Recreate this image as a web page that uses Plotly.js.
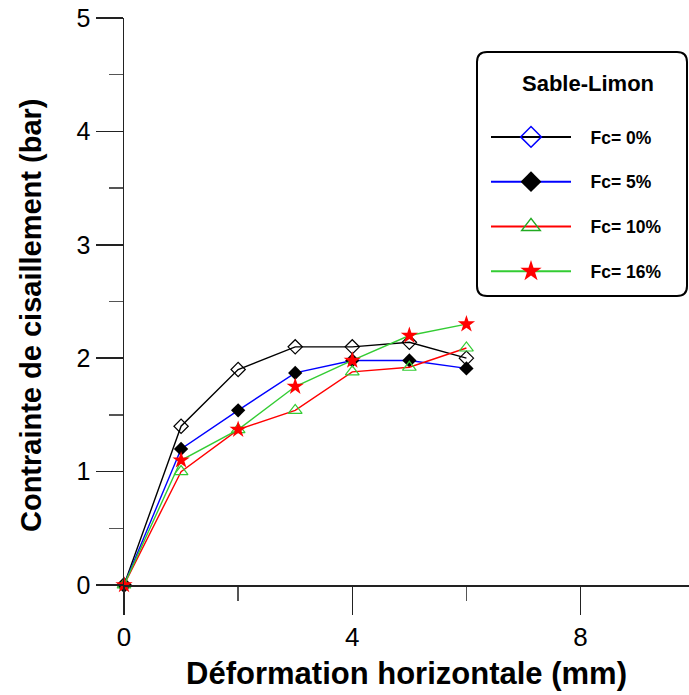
<!DOCTYPE html>
<html>
<head>
<meta charset="utf-8">
<script src="https://cdn.plot.ly/plotly-3.0.1.min.js"></script>
<style>html,body{margin:0;padding:0;background:#fff;}#chart{width:689px;height:695px;}</style>
</head>
<body>
<div id="chart"></div>
<script>
// Data
const deformation = [0, 1, 2, 3, 4, 5, 6];          // mm
const fc0  = [0, 1.40, 1.90, 2.10, 2.10, 2.14, 2.00]; // bar
const fc5  = [0, 1.20, 1.54, 1.87, 1.98, 1.98, 1.91];
const fc10 = [0, 1.00, 1.37, 1.54, 1.88, 1.92, 2.09];
const fc16 = [0, 1.10, 1.37, 1.75, 1.98, 2.20, 2.30];
const seriesNames = ["Fc= 0%", "Fc= 5%", "Fc= 10%", "Fc= 16%"];
const legendTitle = "Sable-Limon";
const xTitle = "Déformation horizontale (mm)";
const yTitle = "Contrainte de cisaillement (bar)";

const FONT = "Arial, 'Liberation Sans', sans-serif";

const styles = [
  {line: "#000000", marker: {symbol: "diamond-open", color: "#000000", size: 11, line: {width: 1.2, color: "#000000"}},
   legMarker: {symbol: "diamond-open", color: "#0000ff", size: 16, line: {width: 1.5, color: "#0000ff"}}},
  {line: "#0000ff", marker: {symbol: "diamond", color: "#000000", size: 11, line: {width: 0}},
   legMarker: {symbol: "diamond", color: "#000000", size: 16, line: {width: 0}}},
  {line: "#ff0000", marker: {symbol: "triangle-up-open", color: "#33cc33", size: 12, line: {width: 1.2, color: "#33cc33"}},
   legMarker: {symbol: "triangle-up-open", color: "#22aa22", size: 16, line: {width: 1.5, color: "#22aa22"}}},
  {line: "#33cc33", marker: {symbol: "star", color: "#ff0000", size: 13, line: {width: 0}},
   legMarker: {symbol: "star", color: "#ff0000", size: 16, line: {width: 0}}}
];
const seriesData = [fc0, fc5, fc10, fc16];

const traces = [];
seriesData.forEach((ys, i) => {
  traces.push({
    x: deformation, y: ys, type: "scatter", mode: "lines+markers",
    name: seriesNames[i], showlegend: false, cliponaxis: false,
    line: {color: styles[i].line, width: 1.4},
    marker: styles[i].marker
  });
});
// legend entries (the reference legend uses its own symbol colours)
const pad = "\u00a0\u00a0\u00a0";
seriesData.forEach((ys, i) => {
  traces.push({
    x: [null], y: [null], type: "scatter", mode: "lines+markers",
    name: pad + seriesNames[i], showlegend: true, legendgroup: "g" + i,
    line: {color: styles[i].line, width: 2},
    marker: styles[i].legMarker
  });
});

// pixel -> paper helpers for the legend frame
const PL = 124, PR = 689, PT = 18, PB = 585;
const px = v => (v - PL) / (PR - PL);
const py = v => (PB - v) / (PB - PT);
const x0 = px(477), x1 = px(687), yt = py(52), yb = py(296);
const rx = 10 / (PR - PL), ry = 10 / (PB - PT);
const framePath = `M ${x0+rx},${yt} L ${x1-rx},${yt} Q ${x1},${yt} ${x1},${yt-ry} L ${x1},${yb+ry} Q ${x1},${yb} ${x1-rx},${yb} L ${x0+rx},${yb} Q ${x0},${yb} ${x0},${yb+ry} L ${x0},${yt-ry} Q ${x0},${yt} ${x0+rx},${yt} Z`;

const layout = {
  width: 689, height: 695,
  margin: {l: PL, r: 689 - PR, t: PT, b: 695 - PB},
  paper_bgcolor: "#ffffff", plot_bgcolor: "#ffffff",
  font: {family: FONT, color: "#000000"},
  showlegend: true,
  xaxis: {
    range: [0, 9.9], tick0: 0, dtick: 4, showgrid: false, zeroline: false,
    showline: true, linecolor: "#222222", linewidth: 1.5,
    ticks: "outside", ticklen: 28, tickwidth: 1.5, tickcolor: "#222222",
    minor: {dtick: 2, ticks: "outside", ticklen: 14, tickwidth: 1.5, tickcolor: "#555555", showgrid: false},
    tickfont: {size: 26, family: FONT, color: "#000000"},
    title: {text: xTitle, font: {size: 31, family: FONT, color: "#000000", weight: "bold"}, standoff: 11}
  },
  yaxis: {
    range: [0, 5], tick0: 0, dtick: 1, showgrid: false, zeroline: false,
    showline: true, linecolor: "#222222", linewidth: 1.5,
    ticks: "outside", ticklen: 27, tickwidth: 1.5, tickcolor: "#222222",
    minor: {dtick: 0.5, ticks: "outside", ticklen: 14, tickwidth: 1.5, tickcolor: "#555555", showgrid: false},
    tickfont: {size: 25, family: FONT, color: "#000000"}
  },
  legend: {
    x: px(486), y: py(119), xanchor: "left", yanchor: "top",
    bgcolor: "rgba(0,0,0,0)", borderwidth: 0,
    traceorder: "grouped", tracegroupgap: 19, itemwidth: 80, itemsizing: "trace",
    font: {size: 17.5, family: FONT, color: "#000000", weight: "bold"}
  },
  shapes: [{type: "path", xref: "paper", yref: "paper", path: framePath,
            line: {color: "#000000", width: 2}, fillcolor: "rgba(255,255,255,0)", layer: "above"}],
  annotations: [
    {text: legendTitle, xref: "paper", yref: "paper", x: px(588), y: py(83),
     xanchor: "center", yanchor: "middle", showarrow: false,
     font: {size: 22, family: FONT, color: "#000000", weight: "bold"}},
    {text: yTitle, xref: "paper", yref: "paper", x: px(31), y: py(315), textangle: -90,
     xanchor: "center", yanchor: "middle", showarrow: false,
     font: {size: 29, family: FONT, color: "#000000", weight: "bold"}}
  ]
};

Plotly.newPlot("chart", traces, layout, {displayModeBar: false, staticPlot: true});
</script>
</body>
</html>
